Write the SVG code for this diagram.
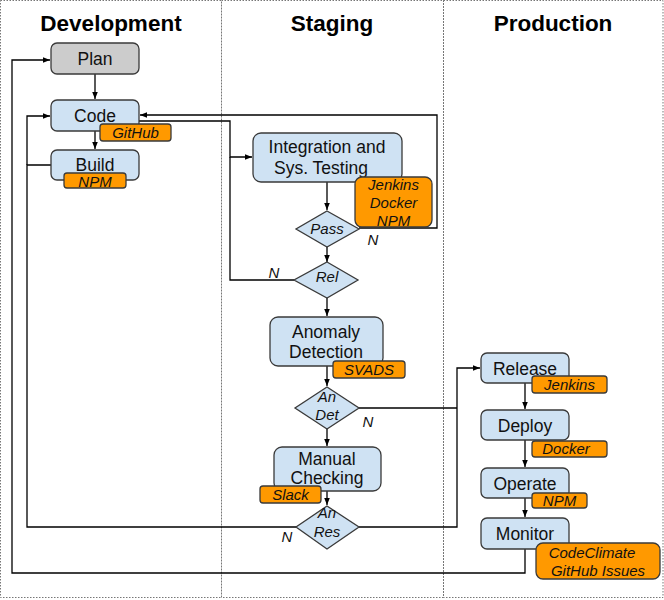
<svg xmlns="http://www.w3.org/2000/svg" width="664" height="600" viewBox="0 0 664 600">
<defs>
<marker id="ah" viewBox="0 0 10 10" refX="10" refY="5" markerWidth="7" markerHeight="7" markerUnits="userSpaceOnUse" orient="auto">
<path d="M0,1 L10,5 L0,9 z" fill="#000"/>
</marker>
</defs>
<style>
.lane{fill:none;stroke:#777;stroke-width:1;stroke-dasharray:1.5,1.5}
.title{font-family:"Liberation Sans",Arial,sans-serif;font-weight:bold;font-size:22.5px;text-anchor:middle;fill:#000}
.node{fill:#cfe2f3;stroke:#3a3a3a;stroke-width:1.3}
.gray{fill:#cccccc;stroke:#3a3a3a;stroke-width:1.3}
.tag{fill:#ff9900;stroke:#3a3a3a;stroke-width:1.3}
.t{font-family:"Liberation Sans",Arial,sans-serif;font-size:17.5px;text-anchor:middle;fill:#111}
.i{font-family:"Liberation Sans",Arial,sans-serif;font-size:15px;font-style:italic;text-anchor:middle;fill:#111}
.c{fill:none;stroke:#000;stroke-width:1.3}
</style>
<rect width="664" height="600" fill="#fff"/>
<g id="lanes">
<rect class="lane" x="0.5" y="0.5" width="221" height="597"/>
<rect class="lane" x="221.5" y="0.5" width="222" height="597"/>
<rect class="lane" x="443.5" y="0.5" width="219.5" height="597"/>
<text class="title" x="111" y="31">Development</text>
<text class="title" x="332" y="31">Staging</text>
<text class="title" x="553" y="31">Production</text>
</g>
<g id="connectors">
<path class="c" d="M95,74 V99" marker-end="url(#ah)"/>
<path class="c" d="M95,131 V149" marker-end="url(#ah)"/>
<path class="c" d="M525,549 V573 H12 V60 H50" marker-end="url(#ah)"/>
<path class="c" d="M51,165 H27 V527 H296"/>
<path class="c" d="M27,165 V116 H50" marker-end="url(#ah)"/>
<path class="c" d="M359,527 H457 V368 H480" marker-end="url(#ah)"/>
<path class="c" d="M359,408 H457"/>
<path class="c" d="M139,121 H230 V157 H252" marker-end="url(#ah)"/>
<path class="c" d="M294,280 H230 V157"/>
<path class="c" d="M359,228 H437 V115 H140" marker-end="url(#ah)"/>
<path class="c" d="M327,182 V210" marker-end="url(#ah)"/>
<path class="c" d="M327,247 V262" marker-end="url(#ah)"/>
<path class="c" d="M327,298 V316" marker-end="url(#ah)"/>
<path class="c" d="M327,366 V386" marker-end="url(#ah)"/>
<path class="c" d="M327,429 V446" marker-end="url(#ah)"/>
<path class="c" d="M327,491 V505" marker-end="url(#ah)"/>
<path class="c" d="M525,383 V409" marker-end="url(#ah)"/>
<path class="c" d="M525,440 V467" marker-end="url(#ah)"/>
<path class="c" d="M525,498 V517" marker-end="url(#ah)"/>
<text class="i" x="373" y="245">N</text>
<text class="i" x="274" y="278">N</text>
<text class="i" x="368" y="427">N</text>
<text class="i" x="287" y="542">N</text>
</g>
<g id="plan">
<rect class="gray" x="51" y="43" width="88" height="31" rx="6"/>
<text class="t" x="95" y="65">Plan</text>
</g>
<g id="code">
<rect class="node" x="51" y="100" width="88" height="31" rx="6"/>
<text class="t" x="95" y="122">Code</text>
<rect class="tag" x="100" y="124" width="71" height="17" rx="3"/>
<text class="i" x="135.5" y="138">GitHub</text>
</g>
<g id="build">
<rect class="node" x="51" y="150" width="88" height="30" rx="6"/>
<text class="t" x="95" y="171">Build</text>
<rect class="tag" x="64" y="173" width="62" height="15" rx="3"/>
<text class="i" x="95" y="187">NPM</text>
</g>
<g id="integration">
<rect class="node" x="253" y="133" width="149" height="49" rx="8"/>
<text class="t" x="327" y="153">Integration and</text>
<text class="t" x="321" y="174">Sys. Testing</text>
<rect class="tag" x="355" y="177" width="77" height="50" rx="7"/>
<text class="i" x="393.5" y="190">Jenkins</text>
<text class="i" x="393.5" y="208">Docker</text>
<text class="i" x="393.5" y="226">NPM</text>
</g>
<g id="pass">
<polygon class="node" points="327,211 359,229 327,247 296,229"/>
<text class="i" x="327" y="234">Pass</text>
</g>
<g id="rel">
<polygon class="node" points="327,262 358,280 327,298 294,280"/>
<text class="i" x="327" y="282">Rel</text>
</g>
<g id="anomaly">
<rect class="node" x="270" y="317" width="113" height="49" rx="8"/>
<text class="t" x="326" y="338">Anomaly</text>
<text class="t" x="326" y="358">Detection</text>
<rect class="tag" x="333" y="361" width="72" height="17" rx="3"/>
<text class="i" x="369" y="375">SVADS</text>
</g>
<g id="andet">
<polygon class="node" points="327,387 359,408 327,429 295,408"/>
<text class="i" x="327" y="402">An</text>
<text class="i" x="327" y="420">Det</text>
</g>
<g id="manual">
<rect class="node" x="274" y="447" width="107" height="44" rx="8"/>
<text class="t" x="327" y="465">Manual</text>
<text class="t" x="327" y="484">Checking</text>
<rect class="tag" x="260" y="486" width="61" height="17" rx="3"/>
<text class="i" x="290.5" y="500">Slack</text>
</g>
<g id="anres">
<polygon class="node" points="327,506 359,527 327,549 296,527"/>
<text class="i" x="327" y="518">An</text>
<text class="i" x="327" y="537">Res</text>
</g>
<g id="release">
<rect class="node" x="481" y="353" width="88" height="30" rx="6"/>
<text class="t" x="525" y="375">Release</text>
<rect class="tag" x="532" y="376" width="75" height="17" rx="3"/>
<text class="i" x="569.5" y="390">Jenkins</text>
</g>
<g id="deploy">
<rect class="node" x="481" y="410" width="88" height="30" rx="6"/>
<text class="t" x="525" y="432">Deploy</text>
<rect class="tag" x="532" y="441" width="75" height="16" rx="3"/>
<text class="i" x="566" y="454">Docker</text>
</g>
<g id="operate">
<rect class="node" x="481" y="468" width="88" height="30" rx="6"/>
<text class="t" x="525" y="490">Operate</text>
<rect class="tag" x="532" y="493" width="55" height="15" rx="3"/>
<text class="i" x="559.5" y="506">NPM</text>
</g>
<g id="monitor">
<rect class="node" x="481" y="518" width="88" height="31" rx="6"/>
<text class="t" x="525" y="540">Monitor</text>
<rect class="tag" x="536" y="543" width="124" height="36" rx="7"/>
<text class="i" x="592" y="558">CodeClimate</text>
<text class="i" x="598" y="576">GitHub Issues</text>
</g>
</svg>
